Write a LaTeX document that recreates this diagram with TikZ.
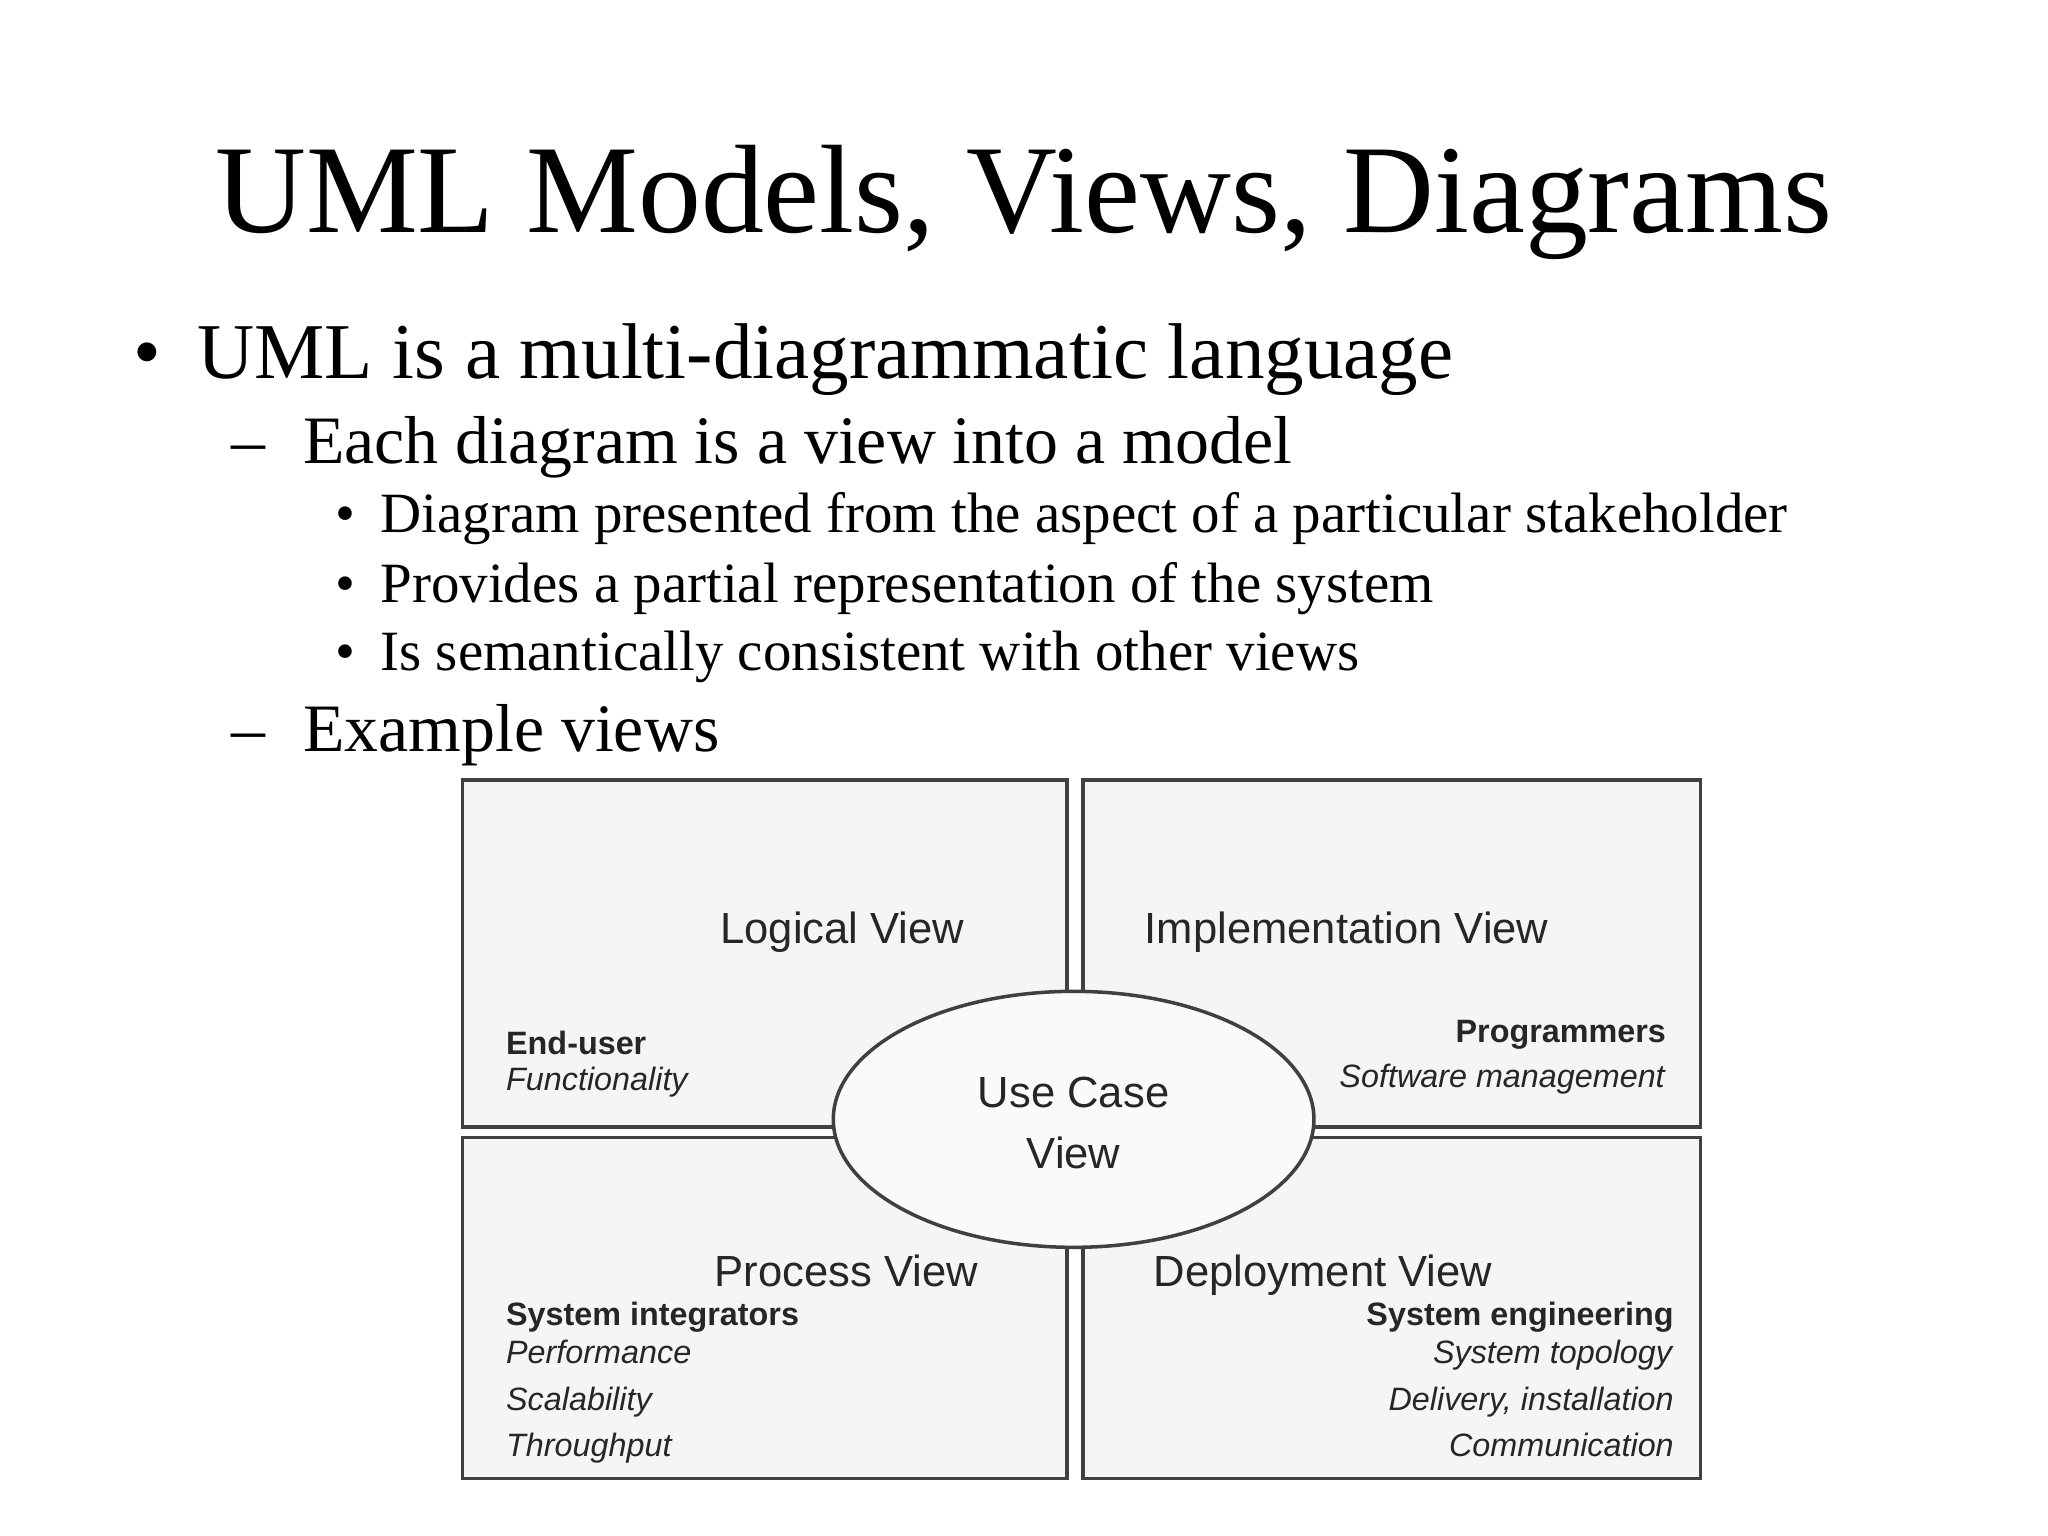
\documentclass[tikz,border=0pt]{standalone}
\usepackage{fontspec}
\setmainfont{Liberation Serif}
\newfontfamily\diag{Liberation Sans}
\begin{document}
\begin{tikzpicture}[x=0.013061cm,y=-0.013061cm,
  box/.style={draw=black!75,line width=1pt,fill=black!4},
  big/.style={font=\diag\fontsize{12.4}{18}\selectfont,text=black!85},
  sl/.style={font=\diag\fontsize{9.2}{13}\selectfont,text=black!85,inner sep=0pt,anchor=base west},
  sr/.style={font=\diag\fontsize{9.2}{13}\selectfont,text=black!85,inner sep=0pt,anchor=base east},
  bul/.style={anchor=base west}]
\useasboundingbox (0,0) rectangle (1568,1176);
\node[anchor=base] (title) at (784,178) {\fontsize{35.8}{44}\selectfont UML Models, Views, Diagrams};
\node[bul] (b1) at (93,290) {\fontsize{22.5}{26}\selectfont\textbullet\hspace{0.45em}UML is a multi-diagrammatic language};
\node[bul] (b2) at (168,355) {\fontsize{19.3}{22}\selectfont --\hspace{0.55em}Each diagram is a view into a model};
\node[bul] (b3) at (247,408) {\fontsize{16.2}{18}\selectfont\textbullet\hspace{0.45em}Diagram presented from the aspect of a particular stakeholder};
\node[bul] (b4) at (247,461) {\fontsize{16.2}{18}\selectfont\textbullet\hspace{0.45em}Provides a partial representation of the system};
\node[bul] (b5) at (247,513) {\fontsize{16.2}{18}\selectfont\textbullet\hspace{0.45em}Is semantically consistent with other views};
\node[bul] (b6) at (168,575) {\fontsize{19.3}{22}\selectfont --\hspace{0.55em}Example views};
\draw[box] (354,597) rectangle (817,863);
\draw[box] (829,597) rectangle (1302,863);
\draw[box] (354,871) rectangle (817,1132);
\draw[box] (829,871) rectangle (1302,1132);
\draw[box,fill=black!2] (822,857) ellipse [x radius=184, y radius=98];
\node[big,anchor=base] (lv) at (645,722) {Logical View};
\node[big,anchor=base] (iv) at (1031,722) {Implementation View};
\node[big,anchor=base] (pv) at (648,985) {Process View};
\node[big,anchor=base] (dv) at (1013,985) {Deployment View};
\node[big,anchor=base] (uc) at (822,848) {Use Case};
\node[big,anchor=base] (uc2) at (822,895) {View};
\node[sl] (eu1) at (387,807) {\textbf{End-user}};
\node[sl] (eu2) at (387,835) {\textit{Functionality}};
\node[sr] (pr1) at (1276,798) {\textbf{Programmers}};
\node[sr] (pr2) at (1276,833) {\textit{Software management}};
\node[sl] (si1) at (387,1015) {\textbf{System integrators}};
\node[sl] (si2) at (387,1044) {\textit{Performance}};
\node[sl] (si3) at (387,1080) {\textit{Scalability}};
\node[sl] (si4) at (387,1115) {\textit{Throughput}};
\node[sr] (se1) at (1282,1015) {\textbf{System engineering}};
\node[sr] (se2) at (1282,1044) {\textit{System topology}};
\node[sr] (se3) at (1282,1080) {\textit{Delivery, installation}};
\node[sr] (se4) at (1282,1115) {\textit{Communication}};
\end{tikzpicture}
\end{document}
